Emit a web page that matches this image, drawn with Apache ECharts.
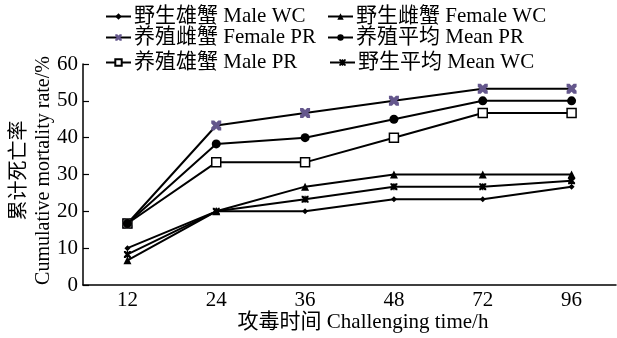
<!DOCTYPE html>
<html><head><meta charset="utf-8">
<script src="https://cdn.jsdelivr.net/npm/echarts@6/dist/echarts.min.js"></script>
<style>html,body{margin:0;padding:0;background:#fff}#c{width:617px;height:338px}</style>
</head><body><div id="c"></div>
<script>
const categories = ['12', '24', '36', '48', '72', '96'];
const maleWC   = [10, 20, 20, 23.3, 23.3, 26.7];
const femaleWC = [6.7, 20, 26.7, 30, 30, 30];
const femalePR = [16.7, 43.3, 46.7, 50, 53.3, 53.3];
const meanPR   = [16.7, 38.3, 40, 45, 50, 50];
const malePR   = [16.7, 33.3, 33.3, 40, 46.7, 46.7];
const meanWC   = [8.3, 20, 23.3, 26.7, 26.7, 28.3];
const names = ['野生雄蟹 Male WC', '野生雌蟹 Female WC', '养殖雌蟹 Female PR', '养殖平均 Mean PR', '养殖雄蟹 Male PR', '野生平均 Mean WC'];

const FONT = "'Liberation Serif', 'Noto Sans CJK SC', serif";
const X_PATH = 'path://M0,0 L3,0 L5,2 L7,0 L10,0 L10,3 L8,5 L10,7 L10,10 L7,10 L5,8 L3,10 L0,10 L0,7 L2,5 L0,3 Z';
const AST_PATH = 'path://M0,0 L2.4,0 L5,2.6 L7.6,0 L10,0 L10,2.4 L7.4,5 L10,7.6 L10,10 L7.6,10 L5,7.4 L2.4,10 L0,10 L0,7.6 L2.6,5 L0,2.4 Z M4.1,0 L5.9,0 L5.9,10 L4.1,10 Z';

function mk(name, data, symbol, size, opts) {
  opts = opts || {};
  return {
    name: name, type: 'line', data: data, symbol: symbol, symbolSize: size,
    lineStyle: {color: '#000', width: 2},
    itemStyle: {color: opts.fill || '#000', borderColor: opts.border || (opts.fill || '#000'), borderWidth: opts.bw || 0},
    z: opts.z || 2
  };
}

const series = [
  mk(names[0], maleWC, 'diamond', 6),
  mk(names[1], femaleWC, 'triangle', 8),
  mk(names[2], femalePR, X_PATH, 10, {fill: '#64578c'}),
  mk(names[4], malePR, 'rect', 9, {fill: '#fff', border: '#000', bw: 1.5}),
  mk(names[5], meanWC, AST_PATH, 7),
  mk(names[3], meanPR, 'circle', 9, {z: 3})
];

const legendPos = [
  [105, 6], [327, 6],
  [105, 27], [327, 27],
  [105, 52], [329, 52]
];
const legends = names.map((n, i) => ({
  data: [n], left: legendPos[i][0], top: legendPos[i][1], padding: 0,
  itemWidth: 25, itemHeight: 8, itemGap: 0,
  textStyle: {fontFamily: FONT, fontSize: 21, color: '#000', padding: [0,0,0,-2]}
}));

const chart = echarts.init(document.getElementById('c'));
chart.setOption({
  animation: false,
  backgroundColor: '#fff',
  legend: legends,
  grid: {left: 83, right: 1, top: 64, bottom: 53, containLabel: false, outerBoundsMode: 'none'},
  xAxis: {
    type: 'category', data: categories, boundaryGap: true,
    name: '攻毒时间 Challenging time/h', nameLocation: 'middle', nameGap: 27, nameMoveOverlap: false,
    nameTextStyle: {fontFamily: FONT, fontSize: 21, color: '#000', padding: [0,0,0,27]},
    axisLine: {lineStyle: {color: '#000', width: 1.5}},
    axisTick: {inside: true, length: 6, lineStyle: {color: '#000', width: 1.2}},
    axisLabel: {fontFamily: FONT, fontSize: 21, color: '#000', margin: 5}
  },
  yAxis: {
    type: 'value', min: 0, max: 60, interval: 10,
    name: '累计死亡率\nCumulative mortality rate/%', nameLocation: 'middle', nameGap: 27, nameMoveOverlap: false,
    nameTextStyle: {fontFamily: FONT, fontSize: 20, color: '#000', lineHeight: 24, padding: [0,0,0,8]},
    axisLine: {show: true, lineStyle: {color: '#000', width: 1.5}},
    axisTick: {show: true, inside: true, length: 6, lineStyle: {color: '#000', width: 1.2}},
    axisLabel: {fontFamily: FONT, fontSize: 21, color: '#000', margin: 5},
    splitLine: {show: false}
  },
  series: series
});
</script></body></html>
